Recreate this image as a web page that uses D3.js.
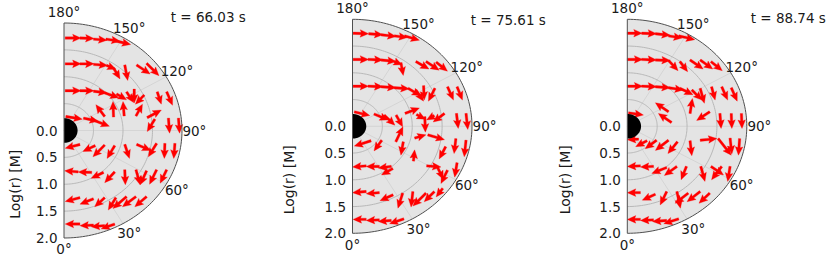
<!DOCTYPE html>
<html><head><meta charset="utf-8">
<script src="https://cdn.jsdelivr.net/npm/d3@7"></script>
<style>
body{margin:0;background:#fff}
svg{display:block}
text{font-family:"DejaVu Sans",sans-serif;fill:#1a1a1a}
</style>
</head><body>
<svg id="c" width="830" height="256"></svg>
<script>
// ---------- data ----------
const times = ["66.03", "75.61", "88.74"];
const radialTicks = [0, 0.5, 1.0, 1.5, 2.0];
const angleTicks = [0, 30, 60, 90, 120, 150, 180];
const gridRings = [0.5, 1.0, 1.5];
const outerR = 2;
const holeR = 0.23;
// arrows: [x, z, u, w] in log(r) units (x to the right, z up), tail at (x,z)
const field66 = [
 [0.02,1.72,0.27,0],[0.27,1.72,0.24,-0.01],[0.50,1.70,0.23,-0.02],[0.71,1.70,0.24,-0.04],[0.86,1.67,0.27,-0.07],
 [0.02,1.24,0.27,0],[0.27,1.24,0.24,0],[0.50,1.23,0.24,-0.02],[0.72,1.21,0.16,-0.07],[0.84,1.16,0.11,-0.20],
 [1.03,1.22,0.05,-0.29],[1.23,1.22,0.23,-0.17],[1.40,1.25,0.21,-0.23],
 [0.02,0.74,0.27,0],[0.27,0.74,0.24,0],[0.50,0.73,0.23,-0.03],[0.69,0.70,0.24,-0.09],[0.89,0.68,0.17,-0.11],
 [1.06,0.72,0.12,-0.20],[1.19,0.77,0,-0.26],[1.36,0.66,-0.15,-0.17],[1.58,0.72,0.07,-0.23],[1.74,0.72,0.10,-0.25],
 [0.03,0.26,0.28,-0.05],[0.33,0.23,0.25,-0.06],[0.53,0.18,0.24,-0.10],[0.69,0.26,-0.15,0.22],[0.84,0.25,-0.01,0.29],
 [1.02,0.27,-0.02,0.27],[1.22,0.27,0.11,0.22],[1.41,0.24,0.24,0.14],[1.54,0.21,-0.13,-0.23],[1.77,0.23,0.02,-0.28],
 [1.94,0.23,0.02,-0.28],
 [0.27,-0.26,-0.25,-0.07],[0.53,-0.28,-0.21,-0.11],[0.69,-0.27,-0.20,-0.22],[0.86,-0.28,-0.13,-0.24],
 [1.03,-0.26,0.08,-0.26],[1.23,-0.26,0.24,-0.11],[1.57,-0.24,-0.14,-0.25],[1.71,-0.24,-0.01,-0.28],[1.88,-0.24,-0.02,-0.28],
 [0.24,-0.77,-0.23,0.02],[0.47,-0.78,-0.23,0.01],[0.67,-0.78,-0.21,-0.11],[0.86,-0.77,-0.17,-0.20],
 [1.03,-0.73,0.01,-0.28],[1.22,-0.73,0.07,-0.28],[1.40,-0.75,-0.11,-0.26],[1.57,-0.73,-0.12,-0.27],[1.74,-0.73,-0.11,-0.25],
 [0.27,-1.25,-0.25,-0.07],[0.50,-1.27,-0.23,-0.10],[0.69,-1.25,-0.17,-0.17],[0.88,-1.25,-0.13,-0.23],
 [1.06,-1.23,-0.23,-0.22],[1.22,-1.23,-0.23,-0.19],[1.40,-1.23,-0.20,-0.19],
 [0.27,-1.74,-0.25,0],[0.50,-1.76,-0.23,-0.01],[0.69,-1.77,-0.23,-0.02],[0.86,-1.74,-0.23,-0.09]
];
const field75 = [
 [0.01,1.74,0.26,-0.01],[0.27,1.73,0.24,-0.02],[0.48,1.71,0.25,-0.03],[0.70,1.69,0.22,-0.03],[0.87,1.69,0.25,-0.08],
 [0.01,1.25,0.26,0],[0.26,1.25,0.25,-0.01],[0.48,1.24,0.25,-0.03],[0.70,1.21,0.13,-0.06],[0.81,1.19,0.04,-0.24],
 [1.06,1.21,0.22,-0.14],[1.23,1.21,0.22,-0.16],[1.40,1.20,0.19,-0.17],
 [0.01,0.75,0.26,0],[0.26,0.75,0.25,-0.01],[0.48,0.74,0.25,-0.02],[0.70,0.72,0.25,-0.02],[0.93,0.71,0.21,-0.14],
 [1.06,0.68,0.13,-0.21],[1.19,0.76,0.01,-0.27],[1.38,0.71,-0.11,-0.24],[1.59,0.74,0.10,-0.25],[1.75,0.74,0.09,-0.25],
 [0.03,0.27,0.26,-0.07],[0.36,0.23,0.24,-0.11],[0.53,0.21,0.18,-0.19],[0.73,0.21,0.11,-0.22],[0.88,0.24,0.24,0.10],
 [1.07,0.22,0.15,-0.09],[1.21,0.18,0.01,-0.29],[1.37,0.20,-0.13,-0.08],[1.54,0.24,-0.19,-0.16],[1.74,0.24,0.03,-0.28],
 [1.90,0.24,0.03,-0.30],
 [0.31,-0.27,-0.28,-0.10],[0.49,-0.26,-0.13,-0.20],[0.725,-0.29,0.12,0.28],[0.85,-0.29,-0.04,-0.25],
 [1.04,-0.22,0.19,0.06],[1.26,-0.16,0.28,-0.09],[1.56,-0.38,-0.11,-0.23],[1.73,-0.23,-0.03,-0.28],[1.90,-0.26,-0.03,-0.31],
 [0.23,-0.74,-0.23,-0.02],[0.45,-0.75,-0.22,0],[0.65,-0.75,-0.22,-0.03],[0.675,-0.79,-0.19,-0.12],
 [1.02,-0.65,0.02,0.21],[1.24,-0.74,0.24,-0.02],[1.42,-0.76,0.10,-0.23],[1.59,-0.82,-0.11,-0.25],[1.75,-0.68,-0.04,-0.27],
 [0.23,-1.22,-0.23,-0.02],[0.45,-1.24,-0.22,-0.02],[0.68,-1.28,-0.22,-0.11],[0.84,-1.25,-0.08,-0.28],
 [1.01,-1.22,-0.03,-0.29],[1.23,-1.25,-0.22,-0.24],[1.37,-1.22,-0.17,-0.19],[1.51,-1.16,-0.11,-0.16],
 [0.23,-1.74,-0.22,0],[0.45,-1.75,-0.22,-0.01],[0.65,-1.76,-0.22,-0.02],[0.86,-1.73,-0.24,-0.09]
];
const field88 = [
 [0.00,1.74,0.25,0],[0.24,1.74,0.25,-0.01],[0.47,1.73,0.25,-0.03],[0.69,1.69,0.23,-0.04],[0.86,1.69,0.27,-0.07],
 [0.00,1.25,0.26,0],[0.24,1.25,0.25,-0.01],[0.47,1.24,0.25,-0.01],[0.69,1.23,0.16,-0.19],[0.88,1.21,0.13,-0.19],
 [1.05,1.24,0.22,-0.17],[1.22,1.24,0.21,-0.17],[1.40,1.21,0.19,-0.17],
 [0.00,0.75,0.26,0],[0.24,0.75,0.25,-0.01],[0.47,0.74,0.25,-0.02],[0.69,0.72,0.25,-0.04],[0.88,0.71,0.22,-0.12],
 [1.08,0.68,0.17,-0.19],[1.22,0.71,0.07,-0.28],[1.41,0.74,0.06,-0.25],[1.58,0.74,0.10,-0.25],[1.74,0.72,0.10,-0.25],
 [0.02,0.25,0.25,-0.04],[0.69,0.27,-0.22,0.17],[0.74,0.07,-0.22,0.17],[1.05,0.24,0.04,0.28],
 [1.38,0.27,-0.22,-0.16],[1.55,0.24,0.02,-0.28],[1.74,0.24,0.01,-0.28],[1.91,0.24,0.01,-0.28],
 [0.19,-0.24,-0.19,-0.01],[0.33,-0.27,-0.19,-0.11],[0.49,-0.26,-0.19,-0.16],[0.69,-0.26,-0.22,-0.19],[0.84,-0.29,-0.16,-0.22],
 [1.05,-0.27,0.03,-0.28],[1.22,-0.26,0.28,0.03],[1.52,-0.23,0.22,-0.31],[1.72,-0.22,0.03,-0.30],[1.88,-0.23,-0.02,-0.31],
 [0.22,-0.74,-0.22,-0.01],[0.44,-0.75,-0.22,-0.01],[0.66,-0.77,-0.25,-0.11],[0.83,-0.75,-0.21,-0.17],
 [0.99,-0.75,-0.09,-0.25],[1.23,-0.75,0.07,-0.28],[1.40,-0.75,0.21,-0.16],[1.58,-0.75,-0.17,-0.25],[1.72,-0.75,-0.04,-0.28],
 [0.22,-1.24,-0.22,0],[0.47,-1.27,-0.22,-0.11],[0.66,-1.22,-0.11,-0.25],[0.83,-1.22,0.06,-0.31],
 [1.02,-1.25,-0.22,-0.19],[1.22,-1.22,-0.22,-0.19],[1.38,-1.25,-0.18,-0.19],
 [0.22,-1.74,-0.22,0],[0.44,-1.75,-0.22,-0.01],[0.66,-1.76,-0.24,-0.02],[0.86,-1.73,-0.25,-0.09]
];
const fields = [field66, field75, field88];

// ---------- layout ----------
const layout = [
  {cx: 64,    cy: 130.5, rx: 118,   ry: 107.5, tx: 208.3, ty: 16.7, lx: 14.5},
  {cx: 352.5, cy: 126.3, rx: 119.5, ry: 107,   tx: 508.3, ty: 20,   lx: 288.5},
  {cx: 627.3, cy: 126.3, rx: 119.5, ry: 107,   tx: 788.3, ty: 18.3, lx: 564.5}
];
const FS = "13.5px";
const rad = Math.PI / 180;
const svg = d3.select("#c");

function arrowPoly(L) {
  let hl = 8.5, hal = 7.5, hw = 3.8, sw = 1.2;
  if (L < hl) { const s = L / hl; hl *= s; hal *= s; hw *= s; sw *= Math.max(s, 0.6); }
  return [[0,-sw],[L-hal,-sw],[L-hl,-hw],[L,0],[L-hl,hw],[L-hal,sw],[0,sw]];
}

layout.forEach((P, i) => {
  const x = d3.scaleLinear().domain([0, outerR]).range([P.cx, P.cx + P.rx]);
  const y = d3.scaleLinear().domain([-outerR, outerR]).range([P.cy + P.ry, P.cy - P.ry]);
  const px = (r, t) => x(r * Math.sin(t * rad));
  const py = (r, t) => y(-r * Math.cos(t * rad));
  const thetas = d3.range(0, 180.001, 1.5);
  const arcPath = r => d3.line().x(t => px(r, t)).y(t => py(r, t))(thetas);
  const g = svg.append("g");

  // background
  g.append("path").attr("d", arcPath(outerR) + "Z").attr("fill", "#e4e4e4");
  // radial grid lines
  g.selectAll("line.rg").data(angleTicks.filter(a => a > 0 && a < 180)).join("line")
    .attr("x1", x(0)).attr("y1", y(0))
    .attr("x2", a => px(outerR, a)).attr("y2", a => py(outerR, a))
    .attr("stroke", "#d0d0d0").attr("stroke-width", 0.8);
  // rings
  g.selectAll("path.ring").data(gridRings).join("path")
    .attr("d", r => arcPath(r)).attr("fill", "none")
    .attr("stroke", "#b8b8b8").attr("stroke-width", 1);

  // arrows
  g.selectAll("polygon.arr").data(fields[i]).join("polygon")
    .attr("points", d => {
      const x0 = x(d[0]), y0 = y(d[1]);
      const dx = x(d[0] + d[2]) - x0, dy = y(d[1] + d[3]) - y0;
      const L = Math.hypot(dx, dy), a = Math.atan2(dy, dx);
      const c = Math.cos(a), s = Math.sin(a);
      return arrowPoly(L).map(([u, v]) => [x0 + u * c - v * s, y0 + u * s + v * c].map(n => n.toFixed(2)).join(",")).join(" ");
    })
    .attr("fill", "#ff0000").attr("stroke", "#ff0000").attr("stroke-width", 0.3);

  // hole
  g.append("path").attr("d", arcPath(holeR) + "Z").attr("fill", "#000");
  // spines
  g.append("path").attr("d", arcPath(outerR) + "Z").attr("fill", "none")
    .attr("stroke", "#505050").attr("stroke-width", 1);

  // radial tick labels
  g.selectAll("text.rt").data(radialTicks).join("text")
    .attr("x", x(0) - 6.5).attr("y", r => y(-r))
    .attr("text-anchor", "end").attr("dominant-baseline", "central")
    .style("font-size", FS).text(r => r.toFixed(1));
  // angle labels
  g.selectAll("text.at").data(angleTicks).join("text")
    .attr("x", a => px(outerR * 1.105, a)).attr("y", a => py(outerR * 1.105, a))
    .attr("text-anchor", "middle").attr("dominant-baseline", "central")
    .style("font-size", FS).text(a => a + "°");
  // title
  g.append("text").attr("x", P.tx).attr("y", P.ty)
    .attr("text-anchor", "middle").attr("dominant-baseline", "central")
    .style("font-size", FS).text("t = " + times[i] + " s");
  // y label
  g.append("text").attr("transform", `translate(${P.lx},${y(-outerR / 2)}) rotate(-90)`)
    .attr("text-anchor", "middle").attr("dominant-baseline", "central")
    .style("font-size", "14px").text("Log(r) [M]");
});
</script>
</body></html>
